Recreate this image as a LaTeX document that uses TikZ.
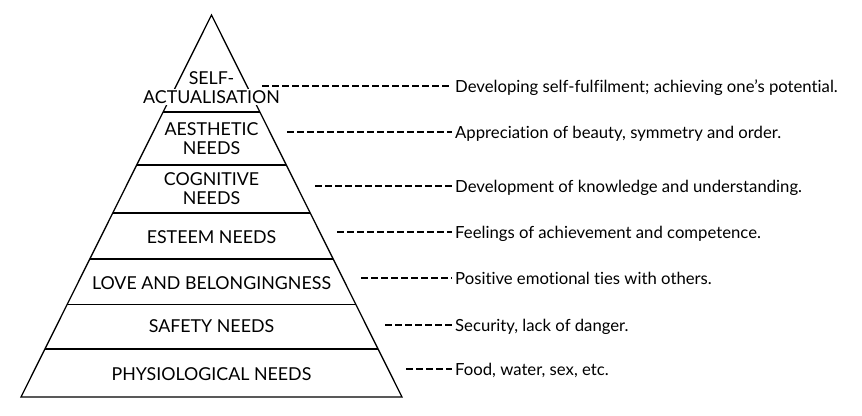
\documentclass[tikz,border=0pt]{standalone}
\usepackage{fontspec}
\setmainfont{Lato}[Ligatures=NoCommon]
\usetikzlibrary{calc}

\begin{document}
\begin{tikzpicture}[
    x=1pt, y=-1pt,
    outline/.style={line width=1.3pt, line join=miter},
    tier/.style={font=\fontsize{17.8}{19}\selectfont, align=center, inner sep=1pt},
    desc/.style={font=\fontsize{16.7}{18}\selectfont, anchor=west, inner sep=3pt,
                 text height=12pt, text depth=0pt},
    leader/.style={line width=1.3pt, dash pattern=on 6.5pt off 3.5pt},
]
    \useasboundingbox (0,0) rectangle (862,415);

    % Pyramid outline
    \coordinate (apex) at (211.5,15);
    \coordinate (bl) at (21,397);
    \coordinate (br) at (402,397);
    \draw[outline] (apex) -- (bl) -- (br) -- cycle;
    \foreach \t in {0.254,0.393,0.518,0.639,0.757,0.874}
        \draw[outline] ($(apex)!\t!(bl)$) -- ($(apex)!\t!(br)$);

    % Tiers
    \node[tier] (self) at (211.5,78) {SELF-};
    \node[tier, fill=white] (actual) at (211.5,97) {ACTUALISATION};
    \node[tier] (aesth) at (211.5,139) {AESTHETIC\\NEEDS};
    \node[tier] (cogn) at (211.5,189) {COGNITIVE\\NEEDS};
    \node[tier] (esteem) at (211.5,237) {ESTEEM NEEDS};
    \node[tier] (love) at (211.5,283) {LOVE AND BELONGINGNESS};
    \node[tier] (safety) at (211.5,326) {SAFETY NEEDS};
    \node[tier] (phys) at (211.5,374) {PHYSIOLOGICAL NEEDS};

    % Descriptions
    \node[desc] (dself) at (452,86) {Developing self-fulfilment; achieving one’s potential.};
    \node[desc] (daesth) at (452,132) {Appreciation of beauty, symmetry and order.};
    \node[desc] (dcogn) at (452,186) {Development of knowledge and understanding.};
    \node[desc] (desteem) at (452,232) {Feelings of achievement and competence.};
    \node[desc] (dlove) at (452,278) {Positive emotional ties with others.};
    \node[desc] (dsafety) at (452,325) {Security, lack of danger.};
    \node[desc] (dphys) at (452,369) {Food, water, sex, etc.};

    % Leaders
    \coordinate (lself) at (262,86);
    \coordinate (laesth) at (287,132);
    \coordinate (lcogn) at (315,186);
    \coordinate (lesteem) at (337,232);
    \coordinate (llove) at (361,278);
    \coordinate (lsafety) at (385,325);
    \coordinate (lphys) at (406,369);
    \draw[leader] (lself) -- (dself);
    \draw[leader] (laesth) -- (daesth);
    \draw[leader] (lcogn) -- (dcogn);
    \draw[leader] (lesteem) -- (desteem);
    \draw[leader] (llove) -- (dlove);
    \draw[leader] (lsafety) -- (dsafety);
    \draw[leader] (lphys) -- (dphys);
\end{tikzpicture}
\end{document}
